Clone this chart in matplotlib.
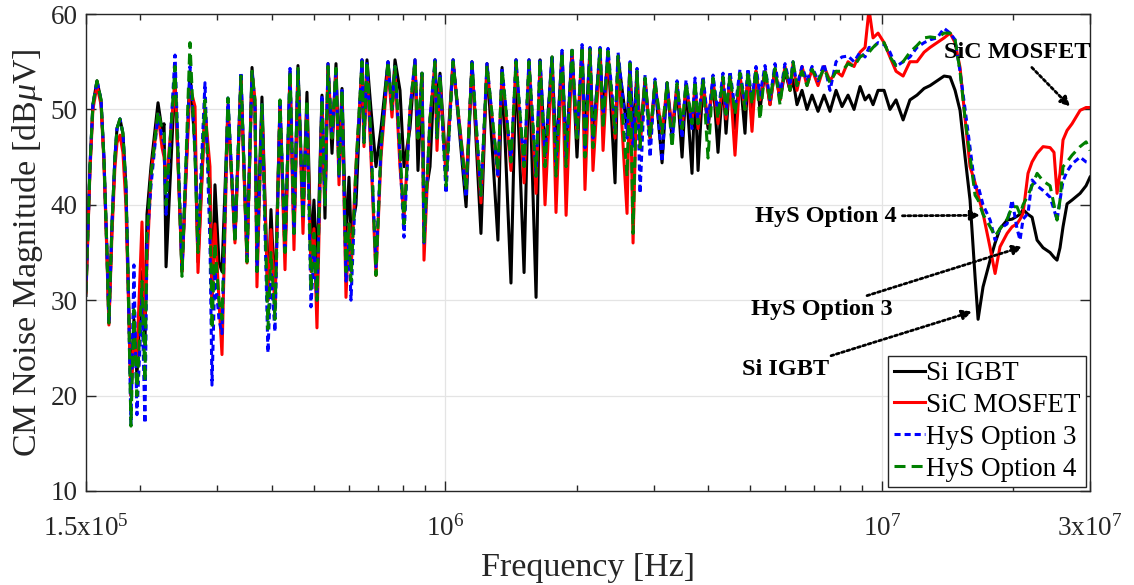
import matplotlib
matplotlib.use("Agg")
import matplotlib.pyplot as plt
from matplotlib.ticker import FixedLocator, NullFormatter

# ---- spectrum readings (frequency in Hz, magnitude in dBuV) ----
freq_hz = [
    150000, 153200, 155600, 159000, 162400, 164900, 167600, 169300, 172100, 174800,
    176700, 179500, 182300, 185200, 187200, 190200, 193200, 196300, 201600, 204800,
    207000, 211400, 219400, 224100, 226500, 228900, 240000, 249000, 259700, 266700,
    270900, 281100, 288600, 291700, 296300, 302600, 307500, 317300, 329300, 339900,
    350900, 360300, 366000, 369800, 379700, 391900, 398200, 406700, 417600, 428800,
    440300, 449600, 459200, 471500, 481500, 491800, 499600, 507600, 521200, 529500,
    538000, 549500, 561200, 570200, 579300, 591600, 601000, 607400, 623600, 643700,
    650500, 660900, 675000, 693000, 711600, 738400, 754100, 766200, 786600, 803500,
    829200, 851400, 865000, 883500, 892900, 921600, 946300, 956300, 971600, 1003000,
    1041000, 1115000, 1150000, 1206000, 1245000, 1319000, 1348000, 1413000, 1451000, 1514000,
    1554000, 1613000, 1647000, 1691000, 1755000, 1792000, 1850000, 1890000, 1950000, 2002000,
    2056000, 2088000, 2144000, 2178000, 2261000, 2297000, 2358000, 2447000, 2486000, 2607000,
    2648000, 2691000, 2748000, 2792000, 2867000, 2944000, 3022000, 3136000, 3220000, 3306000,
    3394000, 3485000, 3559000, 3673000, 3732000, 3792000, 3893000, 3997000, 4104000, 4213000,
    4326000, 4395000, 4488000, 4608000, 4731000, 4858000, 4935000, 5041000, 5148000, 5258000,
    5399000, 5543000, 5691000, 5844000, 6000000, 6161000, 6259000, 6392000, 6563000, 6739000,
    6920000, 7142000, 7372000, 7608000, 7855000, 8106000, 8368000, 8637000, 8916000, 9154000,
    9348000, 9548000, 9804000, 10120000, 10440000, 10780000, 11190000, 11600000, 12040000, 12500000,
    12900000, 13390000, 13890000, 14340000, 14720000, 15110000, 15520000, 15930000, 16360000, 16620000,
    17060000, 17710000, 18180000, 18660000, 19370000, 19890000, 20410000, 20740000, 21070000, 21630000,
    22100000, 22690000, 23420000, 24300000, 24810000, 25210000, 25610000, 26020000, 26580000, 27290000,
    28470000, 29380000, 30000000,
]

si_igbt_db = [
    30.5, 44.0, 50.5, 53.0, 51.0, 45.0, 35.0, 27.6, 38.0, 45.0,
    48.0, 49.0, 47.5, 42.0, 33.0, 20.0, 28.0, 22.0, 33.0, 25.0,
    39.0, 44.0, 50.7, 47.8, 48.5, 33.5, 53.4, 33.0, 54.0, 46.0,
    34.0, 50.0, 42.0, 30.0, 42.1, 34.0, 33.0, 50.0, 36.5, 53.5,
    34.5, 54.4, 50.0, 35.0, 51.3, 30.0, 39.5, 30.0, 50.5, 35.0,
    54.0, 37.0, 54.6, 39.0, 51.8, 35.0, 40.5, 33.0, 51.5, 38.6,
    54.8, 45.4, 54.8, 44.0, 52.2, 36.0, 42.9, 37.0, 40.0, 55.2,
    47.0, 55.2, 50.0, 44.0, 48.0, 55.0, 50.0, 55.2, 52.0, 44.0,
    48.0, 55.2, 43.6, 53.8, 40.0, 44.0, 55.2, 50.0, 53.8, 43.6,
    55.2, 39.8, 55.0, 37.0, 54.8, 36.3, 54.4, 31.8, 55.2, 32.9,
    55.2, 30.3, 55.2, 45.0, 55.5, 45.0, 56.0, 45.0, 56.2, 45.0,
    56.5, 47.0, 56.2, 47.0, 56.2, 49.0, 56.0, 42.3, 55.5, 48.0,
    54.8, 47.0, 54.0, 47.0, 53.2, 47.0, 52.8, 44.4, 52.8, 47.0,
    52.5, 45.0, 52.6, 43.3, 52.8, 43.6, 53.0, 48.0, 53.1, 45.5,
    53.2, 47.5, 53.4, 48.0, 53.6, 47.5, 53.8, 50.0, 54.0, 50.0,
    54.0, 50.5, 54.2, 51.0, 54.0, 52.0, 53.1, 50.5, 52.0, 50.0,
    51.5, 49.8, 51.5, 49.8, 52.0, 50.3, 51.5, 50.0, 52.4, 51.0,
    51.5, 50.5, 52.0, 52.0, 50.0, 51.0, 48.9, 51.0, 51.5, 52.2,
    52.5, 53.0, 53.5, 53.4, 52.0, 49.9, 45.0, 40.5, 32.4, 28.0,
    31.4, 34.2, 36.0, 37.5, 38.4, 38.5, 38.8, 39.0, 39.5, 39.0,
    38.7, 36.3, 35.5, 35.0, 34.5, 34.2, 35.5, 37.7, 40.1, 40.5,
    41.2, 42.0, 42.9,
]

sic_mosfet_db = [
    30.8, 43.5, 50.0, 52.5, 50.5, 44.5, 34.5, 27.4, 37.0, 44.0,
    46.5, 47.3, 45.5, 40.0, 32.0, 20.0, 26.0, 24.0, 38.2, 28.0,
    34.0, 43.0, 49.5, 46.0, 45.0, 42.0, 53.0, 33.0, 52.4, 50.3,
    32.9, 50.0, 44.0, 30.0, 38.0, 30.0, 24.3, 50.5, 36.0, 53.0,
    33.9, 53.8, 51.0, 31.4, 50.0, 30.0, 37.4, 29.0, 50.5, 33.2,
    53.5, 35.3, 54.0, 37.0, 50.5, 33.0, 37.5, 27.1, 51.0, 40.0,
    54.5, 47.0, 54.0, 42.1, 51.5, 30.3, 38.0, 33.0, 44.0, 54.5,
    46.1, 54.5, 45.0, 32.6, 45.0, 54.5, 49.2, 54.0, 44.0, 38.5,
    50.0, 54.8, 47.0, 53.5, 34.2, 49.0, 54.8, 45.7, 53.0, 43.0,
    54.8, 42.0, 54.5, 40.2, 54.5, 43.0, 54.0, 43.6, 55.0, 42.3,
    55.0, 41.2, 55.0, 40.0, 55.3, 39.2, 55.8, 38.9, 56.0, 47.0,
    56.3, 41.6, 56.0, 43.6, 56.0, 45.7, 55.8, 47.0, 55.3, 39.1,
    54.5, 36.0, 53.8, 46.0, 53.0, 47.0, 52.6, 47.5, 52.5, 48.0,
    52.4, 48.0, 52.5, 48.5, 52.6, 48.0, 52.8, 48.5, 53.0, 48.5,
    53.0, 49.0, 53.3, 45.2, 53.5, 50.0, 53.6, 47.7, 54.0, 51.0,
    54.0, 50.5, 54.2, 51.0, 54.5, 52.0, 54.8, 52.0, 54.5, 52.5,
    54.2, 52.5, 54.5, 53.0, 54.0, 53.5, 55.0, 54.5, 56.0, 56.5,
    60.5, 57.5, 58.0, 57.0, 55.5, 54.0, 53.5, 55.0, 55.0, 56.0,
    56.5, 57.0, 57.5, 58.0, 57.0, 54.4, 49.0, 44.0, 42.3, 41.0,
    39.1, 35.5, 32.8, 35.6, 37.0, 37.7, 38.0, 38.5, 39.1, 43.3,
    44.5, 45.4, 46.1, 46.0, 45.5, 41.2, 43.3, 46.8, 47.8, 48.5,
    49.9, 50.2, 50.2,
]

hys_option3_db = [
    31.0, 44.0, 50.5, 53.0, 51.0, 45.0, 35.0, 27.6, 38.0, 45.0,
    48.0, 49.0, 47.5, 42.0, 33.0, 17.0, 33.7, 18.0, 30.0, 17.1,
    36.0, 42.0, 49.5, 47.0, 46.5, 39.0, 55.7, 33.0, 54.5, 46.0,
    36.0, 52.8, 36.0, 21.1, 33.0, 28.0, 26.5, 51.2, 36.5, 53.9,
    34.5, 54.0, 50.5, 33.0, 50.5, 24.5, 33.0, 26.7, 51.0, 35.0,
    54.3, 37.0, 54.3, 38.5, 50.5, 29.3, 35.0, 30.0, 51.5, 40.0,
    54.8, 47.0, 54.3, 43.0, 52.0, 32.0, 36.0, 30.0, 43.0, 55.2,
    46.5, 55.0, 46.0, 33.5, 46.0, 55.0, 50.0, 54.5, 45.0, 36.6,
    50.0, 55.2, 47.0, 53.8, 36.0, 49.0, 55.2, 47.0, 53.5, 41.2,
    55.2, 40.8, 55.0, 41.0, 54.8, 42.9, 54.4, 44.5, 55.2, 44.0,
    55.2, 43.0, 55.4, 45.0, 55.7, 44.5, 56.2, 45.0, 56.4, 47.0,
    56.8, 46.0, 56.5, 47.0, 56.5, 49.0, 56.4, 48.0, 56.0, 47.0,
    55.0, 46.0, 54.3, 41.2, 53.6, 45.0, 53.2, 44.5, 53.0, 46.5,
    53.0, 47.0, 53.1, 48.0, 53.3, 48.5, 53.5, 48.5, 53.6, 49.5,
    53.8, 49.5, 54.0, 50.0, 54.2, 50.5, 54.3, 51.0, 54.5, 51.5,
    54.6, 51.0, 54.8, 51.5, 54.8, 52.5, 55.0, 52.5, 54.5, 53.0,
    54.5, 53.0, 54.8, 52.0, 55.0, 55.5, 55.6, 55.0, 56.0, 55.5,
    56.5, 56.5, 57.0, 56.8, 56.0, 54.5, 55.0, 55.5, 56.5, 57.0,
    57.3, 57.5, 58.5, 58.0, 57.3, 54.0, 50.0, 46.0, 41.8, 42.0,
    40.0, 38.4, 36.3, 37.5, 38.0, 40.5, 37.5, 36.3, 38.5, 39.1,
    42.6, 42.0, 41.5, 40.8, 39.5, 38.4, 40.5, 42.5, 43.5, 44.3,
    45.0, 44.5, 44.4,
]

hys_option4_db = [
    30.8, 44.0, 50.5, 53.0, 51.0, 45.0, 35.0, 27.6, 38.0, 45.0,
    48.0, 49.0, 47.5, 42.0, 33.0, 16.8, 29.0, 20.0, 32.0, 21.5,
    37.0, 43.0, 49.8, 48.0, 47.5, 40.0, 54.5, 32.5, 57.0, 45.0,
    35.0, 51.0, 40.0, 27.0, 36.0, 30.0, 28.0, 51.2, 36.0, 53.5,
    34.0, 54.0, 51.0, 33.0, 50.5, 27.0, 35.0, 28.0, 51.0, 35.0,
    54.0, 37.0, 54.3, 38.5, 51.0, 31.0, 37.0, 30.0, 51.0, 40.0,
    54.5, 47.0, 54.3, 43.0, 52.0, 33.0, 38.0, 32.0, 44.0, 55.0,
    46.5, 55.0, 47.0, 32.6, 46.0, 55.0, 50.0, 54.5, 46.0, 38.0,
    50.0, 55.0, 47.0, 53.8, 36.0, 49.0, 55.0, 47.0, 53.5, 42.0,
    55.0, 41.5, 54.8, 41.0, 54.6, 43.5, 54.2, 44.5, 55.0, 44.0,
    55.0, 43.0, 55.2, 44.0, 55.5, 43.0, 56.0, 44.0, 56.2, 47.0,
    56.6, 45.0, 56.3, 46.0, 56.3, 48.0, 56.1, 47.5, 55.6, 43.0,
    54.8, 37.0, 54.0, 46.0, 53.3, 47.0, 52.9, 47.5, 52.8, 46.0,
    52.7, 48.0, 52.8, 48.5, 53.0, 48.5, 53.2, 44.9, 53.3, 49.0,
    53.4, 49.5, 53.6, 49.5, 53.8, 50.0, 54.0, 50.5, 54.2, 48.9,
    54.3, 51.0, 54.3, 50.5, 54.5, 52.0, 55.0, 52.5, 54.0, 52.5,
    54.2, 53.0, 54.3, 52.8, 54.0, 54.0, 54.8, 54.5, 55.5, 55.8,
    56.0, 56.5, 57.0, 57.0, 55.5, 54.6, 55.0, 56.0, 56.7, 57.5,
    57.6, 57.5, 58.0, 58.0, 57.3, 54.0, 49.0, 45.0, 41.0, 40.5,
    39.0, 37.7, 36.7, 37.5, 38.5, 39.8, 39.8, 39.0, 40.0, 41.0,
    42.0, 43.3, 42.5, 42.0, 40.0, 38.4, 40.5, 44.0, 44.5, 45.2,
    46.1, 46.6, 45.7,
]

series_labels = ["Si IGBT", "SiC MOSFET", "HyS Option 3", "HyS Option 4"]
x_tick_values = [1.5e5, 1e6, 1e7, 3e7]
x_tick_labels = [r"1.5x$10^5$", r"$10^6$", r"$10^7$", r"3x$10^7$"]
y_tick_values = [10, 20, 30, 40, 50, 60]

# ---- styling ----
plt.rcParams["font.family"] = ["Liberation Serif", "DejaVu Serif"]
plt.rcParams["mathtext.fontset"] = "custom"
plt.rcParams["mathtext.rm"] = "Liberation Serif"
plt.rcParams["mathtext.it"] = "Liberation Serif:italic"
plt.rcParams["mathtext.bf"] = "Liberation Serif:bold"

fig = plt.figure(figsize=(11.34, 5.85), dpi=100)
ax = fig.add_axes([0.0758, 0.1607, 0.8854, 0.8153])

lw = 2.2
ax.plot(freq_hz, si_igbt_db, color="black", lw=lw, label=series_labels[0])
ax.plot(freq_hz, sic_mosfet_db, color="#ff0000", lw=lw, label=series_labels[1])
ax.plot(freq_hz, hys_option3_db, color="#0000ff", lw=lw,
        linestyle=(0, (2.0, 1.3)), label=series_labels[2])
ax.plot(freq_hz, hys_option4_db, color="#008000", lw=lw,
        linestyle=(0, (3.6, 2.0)), label=series_labels[3])

ax.set_xscale("log")
ax.set_xlim(1.5e5, 3e7)
ax.set_ylim(10, 60)

ax.xaxis.set_major_locator(FixedLocator(x_tick_values))
ax.set_xticklabels(x_tick_labels)
minor = [m * 10 ** e for e in (5, 6, 7) for m in range(2, 10) if 1.5e5 < m * 10 ** e < 3e7]
ax.xaxis.set_minor_locator(FixedLocator(minor))
ax.xaxis.set_minor_formatter(NullFormatter())
ax.set_yticks(y_tick_values)

ax.tick_params(axis="both", which="both", direction="in", top=True, right=True,
               labelsize=19.5, width=1.0, colors="#262626")
ax.tick_params(axis="both", which="major", length=7)
ax.tick_params(axis="x", which="minor", length=4)
ax.tick_params(axis="x", which="major", pad=17)
ax.tick_params(axis="y", which="major", pad=6)
for lab in ax.get_xticklabels() + ax.get_yticklabels():
    lab.set_color("#262626")

ax.grid(True, which="major", color="#e4e4e4", lw=0.9)
ax.set_axisbelow(True)
for sp in ax.spines.values():
    sp.set_color("#262626")
    sp.set_linewidth(1.0)

ax.set_xlabel("Frequency [Hz]", fontsize=24.5, color="#262626", labelpad=8)
ax.set_ylabel(r"CM Noise Magnitude [dB$\mu$V]", fontsize=24.5, color="#262626", labelpad=4)

# ---- annotations ----
arrow_kw = dict(arrowstyle="-|>", color="black", lw=2.0, linestyle=(0, (1, 1)),
                mutation_scale=14, shrinkA=2, shrinkB=0)
text_kw = dict(fontsize=17.5, fontweight="bold", ha="center", va="center")
ax.annotate("SiC MOSFET", xy=(2.70e7, 50.3), xytext=(2.04e7, 56.0),
            arrowprops=arrow_kw, **text_kw)
ax.annotate("HyS Option 4", xy=(1.68e7, 38.9), xytext=(7.45e6, 38.8),
            arrowprops=arrow_kw, **text_kw)
ax.annotate("HyS Option 3", xy=(2.10e7, 35.6), xytext=(7.30e6, 29.0),
            arrowprops=arrow_kw, **text_kw)
ax.annotate("Si IGBT", xy=(1.61e7, 28.8), xytext=(6.03e6, 22.7),
            arrowprops=arrow_kw, **text_kw)

leg = ax.legend(loc="lower right", fontsize=19.5, frameon=True, fancybox=False,
                framealpha=1.0, edgecolor="#262626", borderpad=0.2,
                handlelength=1.15, handletextpad=0.05, labelspacing=0.25,
                borderaxespad=0.15)
leg.get_frame().set_linewidth(1.0)

fig.savefig("out.png", dpi=100)
